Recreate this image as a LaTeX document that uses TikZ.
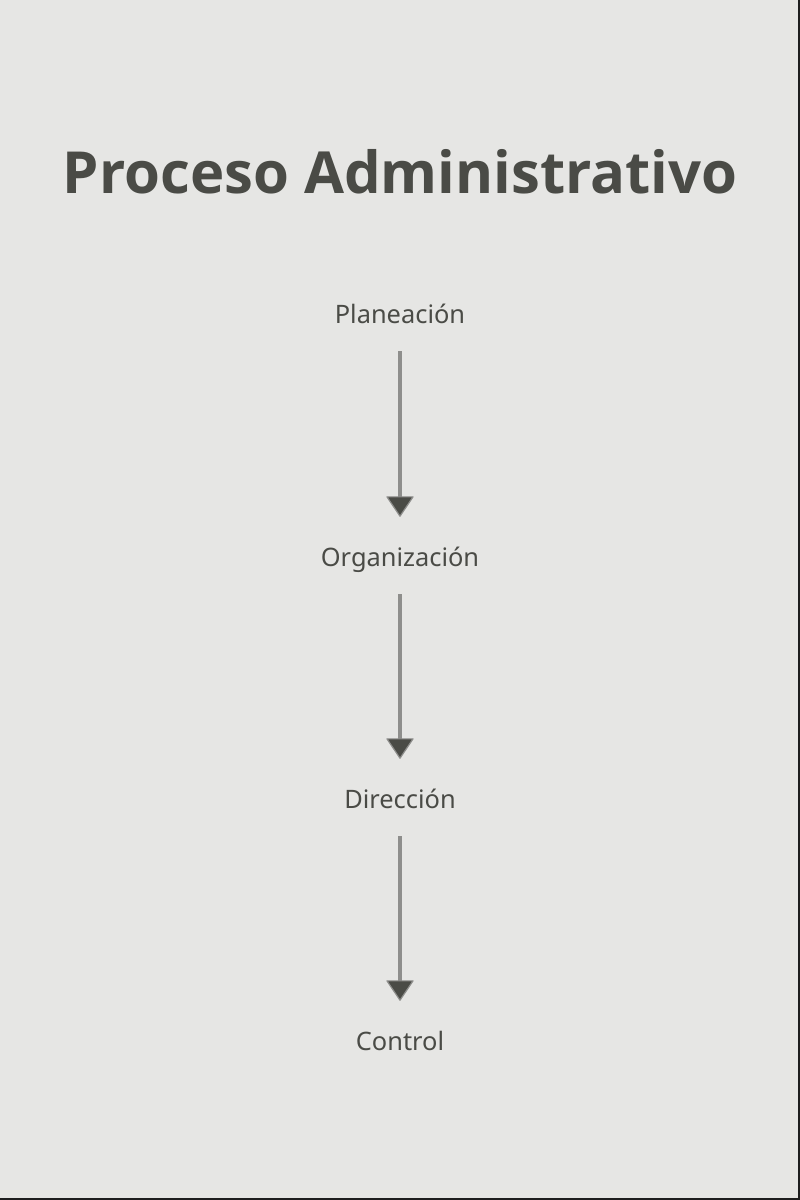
\documentclass[tikz,border=0pt]{standalone}
\usepackage{fontspec}
\setmainfont{Noto Sans}
\newfontfamily\titulofont{Open Sans}
\usetikzlibrary{arrows.meta}
\definecolor{fondo}{HTML}{E6E6E4}
\definecolor{texto}{HTML}{4A4B46}
\definecolor{linea}{HTML}{8E8E8C}
\definecolor{borde}{HTML}{1E1E1E}
\tikzset{
  paso/.style={anchor=base,inner sep=0pt,text height=18pt,text depth=5pt,
    text=texto,font=\fontsize{25.4}{30}\selectfont},
  flecha/.style={draw=linea,line width=4pt,
    -{Triangle[width=28pt,length=21pt,fill=texto,line width=1.2pt,round]}}
}
\begin{document}
\begin{tikzpicture}[x=1pt,y=-1pt]
   \fill[fondo] (0,0) rectangle (800,1200);
   \fill[borde] (798,0) rectangle (800,1200);
   \fill[borde] (0,1198) rectangle (800,1200);
   \draw(400,193) node[anchor=base,inner sep=0pt,text=texto,
     font=\titulofont\fontsize{58}{70}\selectfont\bfseries] (titulo) {Proceso Administrativo};
   \draw(400,323) node[paso] (plan) {Planeación};
   \draw(400,566) node[paso] (orga) {Organización};
   \draw(400,808) node[paso] (dire) {Dirección};
   \draw(400,1050) node[paso] (cont) {Control};
   \draw[flecha,shorten <=23pt,shorten >=31pt] (plan.south) -- (orga.north);
   \draw[flecha,shorten <=23pt,shorten >=31pt] (orga.south) -- (dire.north);
   \draw[flecha,shorten <=23pt,shorten >=31pt] (dire.south) -- (cont.north);
\end{tikzpicture}
\end{document}
